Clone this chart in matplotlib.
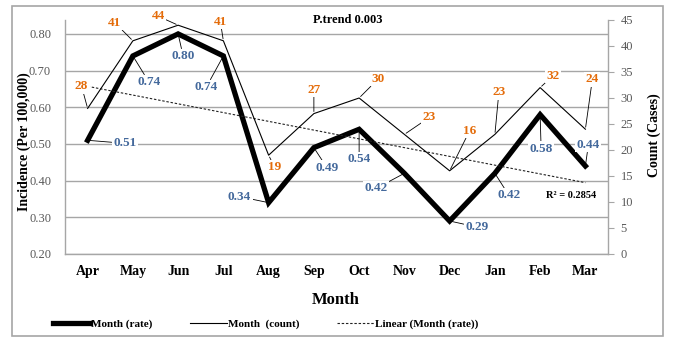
"""Monthly incidence rate and case count, with linear trend of the rate."""

import matplotlib.pyplot as plt
import numpy as np
from matplotlib.lines import Line2D
from matplotlib.patches import Rectangle

MONTHS = ["Apr", "May", "Jun", "Jul", "Aug", "Sep", "Oct", "Nov", "Dec", "Jan", "Feb", "Mar"]
RATE = [0.51, 0.74, 0.80, 0.74, 0.34, 0.49, 0.54, 0.42, 0.29, 0.42, 0.58, 0.44]
COUNT = [28, 41, 44, 41, 19, 27, 30, 23, 16, 23, 32, 24]
P_TREND = "P.trend 0.003"
R2_TEXT = "R\u00b2 = 0.2854"

# label offsets (pixels, from the point) as placed in the original chart
RATE_OFFSETS = [(37, -3), (16, -26), (5, -22), (-17, -31), (-29, 6), (13, -20),
                (0, -30), (-28, -15), (27, -6), (14, -22), (1, -34), (3, 21)]
COUNT_OFFSETS = [(-6, 22), (-18, 18), (-20, 9), (-3, 19), (6, -12), (0, 24),
                 (19, 19), (25, 17), (20, 40), (4, 42), (13, 12), (7, 50)]

BLUE = "#44699C"
ORANGE = "#E46C0A"
GRID = "#A6A6A6"
TICK_GRAY = "#595959"

plt.rcParams["font.family"] = ["Liberation Serif", "DejaVu Serif"]

W, H = 681, 343
fig = plt.figure(figsize=(W / 100, H / 100), dpi=100)
ax = fig.add_axes([65 / W, 1 - 254 / H, 543 / W, 234 / H])
ax2 = ax.twinx()

x = np.arange(len(MONTHS))

# rate (left axis)
ax.plot(x, RATE, color="black", lw=3.8, solid_joinstyle="miter", zorder=3)
slope, icpt = np.polyfit(x, RATE, 1)
ax.plot(x, slope * x + icpt, color="#222222", lw=0.8, ls=(0, (2.2, 1.6)), zorder=3)
ax.set_xlim(-0.5, len(MONTHS) - 0.5)
ax.set_ylim(0.2, 0.838)
ax.set_yticks(np.arange(0.2, 0.81, 0.1))
ax.set_yticklabels([f"{v:.2f}" for v in np.arange(0.2, 0.81, 0.1)])
ax.grid(True, axis="y", color=GRID, lw=1.0)
ax.set_axisbelow(True)
ax.set_xticks(x)
ax.set_xticklabels(MONTHS, fontweight="bold", fontsize=10)
ax.tick_params(axis="x", length=0, pad=8)
ax.tick_params(axis="y", length=0, pad=10, labelsize=9, labelcolor=TICK_GRAY)
for s in ["top", "right"]:
    ax.spines[s].set_visible(False)
for s in ["left", "bottom"]:
    ax.spines[s].set_color(GRID)
    ax.spines[s].set_linewidth(1.0)

ax.set_ylabel("Incidence (Per 100,000)", fontweight="bold", fontsize=10)
ax.yaxis.set_label_coords(-0.062, 0.48)
ax.set_xlabel("Month", fontweight="bold", fontsize=12)
ax.xaxis.set_label_coords(0.499, -0.162)

# count (right axis)
ax2.plot(x, COUNT, color="black", lw=0.8, zorder=3)
ax2.set_ylim(0, 45)
ax2.set_yticks(range(0, 46, 5))
ax2.tick_params(axis="y", direction="out", length=4, width=0.8, color=GRID,
                pad=5, labelsize=9, labelcolor=TICK_GRAY)
for s in ["top", "left", "bottom"]:
    ax2.spines[s].set_visible(False)
ax2.spines["right"].set_color(GRID)
ax2.spines["right"].set_linewidth(1.0)
ax2.set_ylabel("Count (Cases)", fontweight="bold", fontsize=10, rotation=90)
ax2.yaxis.set_label_coords(1.073, 0.51)

box = dict(boxstyle="square,pad=0.1", fc="white", ec="none")
arrow = dict(arrowstyle="-", color="black", lw=0.6, shrinkA=0, shrinkB=1.5)
for i, (v, off) in enumerate(zip(RATE, RATE_OFFSETS)):
    ax2.annotate(f"{v:.2f}", xy=(i, v), xycoords=ax.transData, xytext=off,
                 textcoords="offset pixels", ha="center", va="center",
                 color=BLUE, fontweight="bold", fontsize=9.5, bbox=box,
                 arrowprops=arrow, zorder=6)
for i, (v, off) in enumerate(zip(COUNT, COUNT_OFFSETS)):
    ax2.annotate(f"{v}", xy=(i, v), xytext=off,
                 textcoords="offset pixels", ha="center", va="center",
                 color=ORANGE, fontweight="bold", fontsize=9.5, bbox=box,
                 arrowprops=arrow, zorder=6)

ax2.text(0.932, 0.248, R2_TEXT, transform=ax.transAxes, ha="center", va="center",
         fontsize=7.5, fontweight="bold", zorder=6)
fig.text(348 / W, 1 - 20 / H, P_TREND, ha="center", va="center",
         fontsize=9, fontweight="bold")

handles = [
    Line2D([], [], color="black", lw=3.8),
    Line2D([], [], color="black", lw=0.8),
    Line2D([], [], color="#222222", lw=0.8, ls=(0, (2.2, 1.6))),
]
labels = ["Month (rate)", "Month  (count)", "Linear (Month (rate))"]
fig.legend(handles, labels, loc="center", bbox_to_anchor=(266 / W, 1 - 324 / H),
           ncol=3, frameon=False, prop={"weight": "bold", "size": 8},
           handlelength=3.3, handletextpad=0.1, columnspacing=3.4)

fig.patches.append(Rectangle((12 / W, 1 - 336 / H), 651 / W, 330 / H,
                             transform=fig.transFigure, fill=False,
                             ec=GRID, lw=1.2))

fig.savefig("out.png", dpi=100)
